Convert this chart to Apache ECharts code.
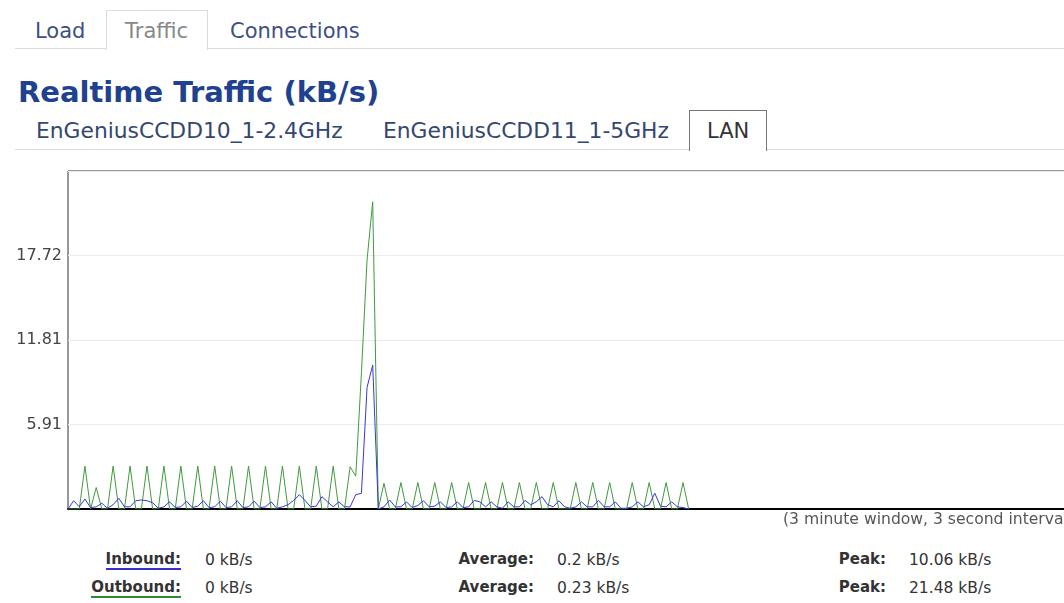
<!DOCTYPE html>
<html>
<head>
<meta charset="utf-8">
<title>Realtime Traffic</title>
<script src="https://cdn.jsdelivr.net/npm/echarts@6/dist/echarts.min.js"></script>
<style>
html, body { margin: 0; padding: 0; background: #fff; }
body { width: 1064px; height: 603px; overflow: hidden; position: relative; font-family: "DejaVu Sans", sans-serif; }
.t { position: absolute; white-space: nowrap; line-height: 24px; }
.tab { font-size: 21px; color: #3d4f85; }
.sub { font-size: 21.8px; color: #34476f; }
.rule { position: absolute; left: 15px; width: 1049px; height: 0; border-top: 1px solid #dcdcdc; }
.box { position: absolute; border: 1px solid #dcdcdc; border-bottom: none; background: #fff; }
.lbl { position: absolute; left: 0; text-align: right; font-size: 15px; font-weight: bold; color: #333; line-height: 18px; white-space: nowrap; }
.val { position: absolute; font-size: 15.5px; color: #333; line-height: 18px; white-space: nowrap; }
#chart { position: absolute; left: 0; top: 160px; width: 1110px; height: 380px; }
</style>
</head>
<body>

<div class="rule" style="top:48px"></div>
<div class="box" style="left:106px; top:10px; width:100px; height:39px"></div>
<div class="t tab" style="left:35px; top:19px">Load</div>
<div class="t tab" style="left:125px; top:19px; color:#888">Traffic</div>
<div class="t tab" style="left:230px; top:19px">Connections</div>

<div class="t" style="left:18px; top:76px; line-height:32px; font-size:29px; font-weight:bold; color:#20418f">Realtime Traffic (kB/s)</div>

<div class="rule" style="top:149px"></div>
<div class="box" style="left:689px; top:110px; width:76px; height:40px; border-color:#777"></div>
<div class="t sub" style="left:36px; top:119px">EnGeniusCCDD10_1-2.4GHz</div>
<div class="t sub" style="left:383px; top:119px">EnGeniusCCDD11_1-5GHz</div>
<div class="t sub" style="left:707px; top:119px; font-size:21px; color:#333">LAN</div>

<div id="chart"></div>

<div class="t" style="left:783px; top:507px; font-size:15.6px; color:#555">(3 minute window, 3 second interval)</div>

<div class="lbl" style="top:550px; width:181px"><span style="border-bottom:2px solid #3333cc">Inbound:</span></div>
<div class="val" style="top:551px; left:205px">0 kB/s</div>
<div class="lbl" style="top:550px; width:534px">Average:</div>
<div class="val" style="top:551px; left:557px">0.2 kB/s</div>
<div class="lbl" style="top:550px; width:886px">Peak:</div>
<div class="val" style="top:551px; left:909px">10.06 kB/s</div>

<div class="lbl" style="top:578px; width:181px"><span style="border-bottom:2px solid #338833">Outbound:</span></div>
<div class="val" style="top:579px; left:205px">0 kB/s</div>
<div class="lbl" style="top:578px; width:534px">Average:</div>
<div class="val" style="top:579px; left:557px">0.23 kB/s</div>
<div class="lbl" style="top:578px; width:886px">Peak:</div>
<div class="val" style="top:579px; left:909px">21.48 kB/s</div>

<script>
// 180 samples in the window, 3 s apart
var samples = [];
for (var i = 0; i < 180; i++) samples.push(i);

// inbound kB/s (blue)
var inbound = [0, 0.58, 0.16, 0.7, 0.1, 0.15, 0.4, 0.05, 0.3, 0.75,
               0.15, 0.15, 0.58, 0.63, 0.58, 0.44, 0.05, 0.15, 0.5, 0.1,
               0.15, 0.55, 0.1, 0.2, 0.58, 0.1, 0.15, 0.55, 0.1, 0.15,
               0.58, 0.1, 0.15, 0.55, 0.1, 0.15, 0.5, 0.05, 0.15, 0.3,
               0.6, 1.0, 0.6, 0.15, 0.2, 0.86, 0.5, 0.15, 0.5, 0.15,
               0.15, 1.0, 1.1, 8.5, 10.06, 0, 0.15, 0.63, 0.15, 0.15,
               0.5, 0.1, 0.25, 0.58, 0.15, 0.2, 0.5, 0.1, 0.15, 0.5,
               0.1, 0.15, 0.6, 0.5, 0.15, 0.5, 0.15, 0.05, 0.5, 0.15,
               0.15, 0.6, 0.3, 0.5, 0.86, 0.3, 0.15, 0.58, 0.15, 0.05,
               0.15, 0.5, 0.15, 0.15, 0.6, 0.15, 0.15, 0.5, 0.05, 0.05,
               0.15, 0.5, 0.15, 0.3, 1.1, 0.2, 0.15, 0.5, 0.15, 0.1,
               0];

// outbound kB/s (green)
var outbound = [0, 0, 0, 3.0, 0, 1.5, 0, 0, 3.0, 0,
                0, 3.0, 0, 0, 3.0, 0, 0, 3.0, 0, 0,
                3.0, 0, 0, 3.0, 0, 0, 3.0, 0, 0, 3.0,
                0, 0, 3.0, 0, 0, 3.0, 0, 0, 3.0, 0,
                0, 3.0, 0, 0, 3.0, 0, 0, 3.0, 0, 0,
                2.95, 2.3, 9.5, 17.4, 21.48, 0, 1.8, 0, 0, 1.85,
                0, 0, 1.85, 0, 0, 1.85, 0, 0, 1.85, 0,
                0, 1.85, 0, 0, 1.85, 0, 0, 1.85, 0, 0,
                1.85, 0, 0, 1.85, 0, 0, 1.85, 0, 0, 0,
                1.85, 0, 0, 1.85, 0, 0, 1.85, 0, 0, 0,
                1.85, 0, 0, 1.85, 0, 0, 1.85, 0, 0, 1.85,
                0];

var yMax = 23.63;
var yLabels = ['', '5.91', '11.81', '17.72', ''];

var myChart = echarts.init(document.getElementById('chart'));
var option = {
    animation: false,
    grid: {
        left: 68,
        top: 11,
        width: 1010,
        height: 338,
        show: true,
        borderColor: '#333',
        borderWidth: 1,
        backgroundColor: '#fff'
    },
    xAxis: {
        type: 'category',
        data: samples,
        boundaryGap: false,
        axisLine: { show: true, lineStyle: { color: '#000', width: 2 } },
        axisTick: { show: false },
        axisLabel: { show: false },
        splitLine: { show: false }
    },
    yAxis: {
        type: 'value',
        min: 0,
        max: yMax,
        interval: yMax / 4,
        axisLine: { show: false },
        axisTick: { show: false },
        axisLabel: {
            margin: 6,
            color: '#444',
            fontSize: 16,
            fontFamily: 'DejaVu Sans',
            formatter: function (value, index) {
                return yLabels[index] || '';
            }
        },
        splitLine: { show: true, lineStyle: { color: '#ececec', width: 1 } }
    },
    series: [{
        name: 'Outbound',
        type: 'line',
        data: outbound,
        symbol: 'none',
        lineStyle: { color: '#3f9a3f', width: 1 }
    }, {
        name: 'Inbound',
        type: 'line',
        data: inbound,
        symbol: 'none',
        lineStyle: { color: '#3838d0', width: 1 }
    }]
};
myChart.setOption(option);
window.onresize = myChart.resize;
</script>
</body>
</html>
